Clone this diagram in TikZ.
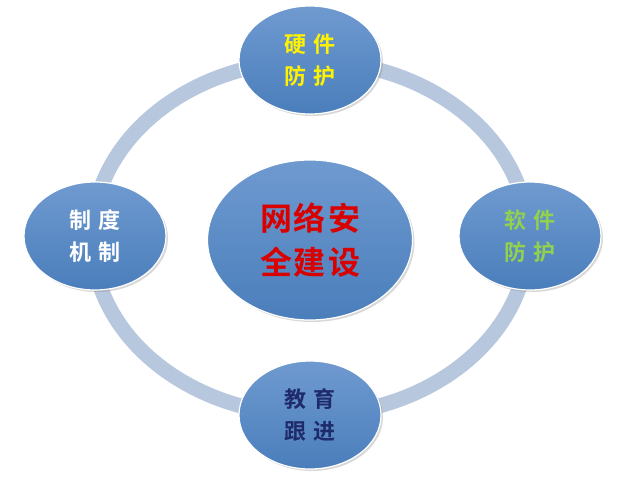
\documentclass[tikz,border=0pt]{standalone}
\usepackage{fontspec}
\newfontfamily\cjk{Noto Sans CJK SC}[BoldFont={* Bold}]
\usetikzlibrary{shadows}
\definecolor{ringc}{HTML}{B7C7DE}
\definecolor{ballc}{HTML}{4A7EBB}
\definecolor{ballt}{HTML}{6F9AD0}
\definecolor{navy}{HTML}{1F2A6B}
\definecolor{leaf}{HTML}{92D050}
\tikzset{ball/.style={ellipse,draw=white,line width=1.2pt,top color=ballt,bottom color=ballc,
  minimum width=142pt,minimum height=108pt,align=center,font=\cjk\bfseries\fontsize{22}{32}\selectfont,
  drop shadow={opacity=0.3,shadow xshift=2pt,shadow yshift=-2pt}}}
\usetikzlibrary{shapes.geometric}
\begin{document}
\begin{tikzpicture}[x=1pt,y=-1pt]
\useasboundingbox[fill=white] (0,0) rectangle (621,479);
\draw[ringc,line width=15pt] (310,238) ellipse [x radius=218, y radius=177];
\node[ball,text=yellow] (hw) at (310,60) {硬\hspace{8pt}件\\防\hspace{8pt}护};
\node[ball,text=leaf] (sw) at (530,236) {软\hspace{8pt}件\\防\hspace{8pt}护};
\node[ball,text=navy] (ed) at (310,415) {教\hspace{8pt}育\\跟\hspace{8pt}进};
\node[ball,text=white] (sy) at (95,236) {制\hspace{8pt}度\\机\hspace{8pt}制};
\node[ball,minimum width=205pt,minimum height=160pt,text=red!85!black,
  font=\cjk\bfseries\fontsize{32}{44}\selectfont] (c) at (310,240) {网\hspace{2pt}络\hspace{2pt}安\\全\hspace{2pt}建\hspace{2pt}设};
\end{tikzpicture}
\end{document}
